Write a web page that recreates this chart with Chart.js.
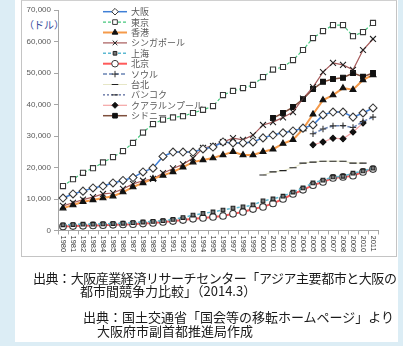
<!DOCTYPE html>
<html>
<head>
<meta charset="utf-8">
<script src="https://cdn.jsdelivr.net/npm/chart.js"></script>
<style>
html, body { margin: 0; padding: 0; width: 403px; height: 346px; overflow: hidden; background: #dcedf5; }
#panel { position: absolute; left: 15px; top: 0; width: 383px; height: 342px; background: #fff; }
#frame { position: absolute; left: 21px; top: 0; width: 374px; height: 255px; border: 1px solid #c4c4c4; border-top-color: #d0d0d0; }
#cv { position: absolute; left: 0; top: 0; }
#unit { position: absolute; left: 24px; top: 19px; font-family: "Noto Sans CJK JP"; font-size: 10px; line-height: 12px; color: #33489a; }
.src { position: absolute; font-family: "Noto Sans CJK JP"; font-size: 13px; line-height: 13px; color: #1a1a1a; white-space: nowrap; }
</style>
</head>
<body>
<div id="panel"></div>
<div id="frame"></div>
<div id="unit">（ドル）</div>
<canvas id="cv" width="403" height="346"></canvas>
<div class="src" style="left:33px; top:271px; letter-spacing:-0.45px;">出典：大阪産業経済リサーチセンター「アジア主要都市と大阪の</div>
<div class="src" style="left:80px; top:284px;">都市間競争力比較」（2014.3）</div>
<div class="src" style="left:83px; top:310px;">出典：国土交通省「国会等の移転ホームページ」より</div>
<div class="src" style="left:97px; top:324px;">大阪府市副首都推進局作成</div>

<script>
const years = ["1980", "1981", "1982", "1983", "1984", "1985", "1986", "1987", "1988", "1989",
    "1990", "1991", "1992", "1993", "1994", "1995", "1996", "1997", "1998", "1999",
    "2000", "2001", "2002", "2003", "2004", "2005", "2006", "2007", "2008", "2009",
    "2010", "2011"];

const yTicks = [0, 10000, 20000, 30000, 40000, 50000, 60000, 70000];

// GDP per capita (USD)
const osaka = [10300, 11600, 12500, 13500, 14100, 15100, 15900, 16800, 18600, 19800,
    23500, 24900, 24900, 24900, 25900, 26500, 28100, 27800, 27800, 28100,
    29400, 30300, 31000, 31600, 32500, 33500, 36700, 37600, 37600, 36000,
    37300, 38900];
const tokyo = [14100, 16300, 18300, 19800, 21600, 23300, 25200, 27800, 31100, 33800,
    35200, 35900, 36300, 37300, 38300, 39500, 43000, 44300, 45200, 46200,
    48700, 51100, 51900, 54100, 57300, 61100, 63300, 65200, 65200, 61700,
    63000, 65900];
const hongkong = [7100, 8100, 9100, 9700, 10300, 10900, 12200, 13800, 15100, 16400,
    17500, 18600, 20100, 21700, 22400, 23000, 24000, 25000, 24000, 24000,
    25000, 25800, 27600, 28800, 32200, 36900, 41400, 43000, 45200, 44700,
    47800, 49400];
const singapore = [7800, 8800, 9800, 10600, 11600, 11900, 13200, 14800, 15800, 16400,
    18200, 19700, 21000, 23000, 26200, 26800, 28100, 29300, 28800, 30300,
    33500, 34400, 35900, 37600, 41900, 45500, 50300, 53200, 52600, 51000,
    57300, 60800];
const shanghai = [1800, 1900, 2000, 2000, 2100, 2200, 2300, 2500, 2700, 2900,
    3100, 3500, 4100, 4900, 5400, 5900, 6500, 7100, 7500, 8100,
    9400, 10000, 10900, 12200, 13500, 15100, 16000, 17000, 17200, 18200,
    18900, 19800];
const beijing = [1300, 1400, 1500, 1600, 1700, 1800, 1900, 2000, 2200, 2400,
    2700, 3000, 3300, 3700, 4000, 4300, 4600, 5300, 5900, 6800,
    7500, 8600, 10000, 11600, 12900, 14400, 15400, 16700, 17000, 17400,
    18600, 19500];
const seoul = [null, null, null, null, null, null, null, null, null, null,
    null, null, null, null, null, null, null, null, null, null,
    null, null, null, null, null, 30700, 32200, 33200, 33300, 32700,
    34600, 36000];
const taipei = [null, null, null, null, null, null, null, null, null, null,
    null, null, null, null, null, null, null, null, null, null,
    17600, 18600, 19000, 19900, 21400, 21700, 22000, 22000, 22000, 21400,
    21400, null];
const bangkok = [null, null, null, null, null, null, null, null, null, null,
    null, null, null, null, null, null, null, null, null, null,
    null, null, null, null, null, null, null, null, null, null,
    null, null];
const kualalumpur = [null, null, null, null, null, null, null, null, null, null,
    null, null, null, null, null, null, null, null, null, null,
    null, null, null, null, null, 27200, 28100, 29300, 29100, 31300,
    34100, null];
const sydney = [null, null, null, null, null, null, null, null, null, null,
    null, null, null, null, null, null, null, null, null, null,
    null, 35700, 37300, 39200, 41700, 44900, 47200, 48100, 48500, 50000,
    48800, 50000];


function series(label, data, color, width, dash, style, radius, fill, edge) {
    return {
        label: label,
        data: data,
        borderColor: color,
        borderWidth: width,
        borderDash: dash,
        pointStyle: style,
        pointRadius: radius,
        pointHoverRadius: radius,
        pointBackgroundColor: fill,
        pointBorderColor: edge,
        pointBorderWidth: 1.1,
        tension: 0,
        fill: false
    };
}

const datasets = [
    series("大阪", osaka, "#3f7fd6", 1.5, [], "rectRot", 4, "#fff", "#3a3a3a"),
    series("東京", tokyo, "#45c77d", 1.2, [3, 2], "rect", 3.6, "#fff", "#3a3a3a"),
    series("香港", hongkong, "#f59a4a", 2, [], "triangle", 3.4, "#111", "#111"),
    series("シンガポール", singapore, "#a65a5a", 1.2, [], "crossRot", 4.2, "#222", "#222"),
    series("上海", shanghai, "#5cb9d2", 1.5, [3, 2], "rect", 2.6, "#777", "#222"),
    series("北京", beijing, "#ff5a5a", 2, [], "circle", 3.3, "#fff", "#3a3a3a"),
    series("ソウル", seoul, "#6a84b4", 1.5, [4, 2], "cross", 3.2, "#333", "#333"),
    series("台北", taipei, "#e6e6c6", 1, [], "line", 3.6, "#222", "#222"),
    series("バンコク", bangkok, "#2a3f80", 1, [2, 2], "line", 3.6, "#222", "#222"),
    series("クアラルンプール", kualalumpur, "#f4a4a4", 1.2, [], "rectRot", 3, "#111", "#111"),
    series("シドニー", sydney, "#7e4e3c", 1.5, [], "rect", 3.4, "#111", "#111")
];


// legend inside the plot, drawn by hand so it can sit where the original has it
const legendInside = {
    id: "legendInside",
    afterDraw(chart) {
        const ctx = chart.ctx;
        chart.data.datasets.forEach(function (ds, i) {
            const y = 11.7 + i * 10.4;
            ctx.save();
            ctx.strokeStyle = ds.borderColor;
            ctx.lineWidth = ds.borderWidth;
            ctx.setLineDash(ds.borderDash);
            ctx.beginPath();
            ctx.moveTo(103, y);
            ctx.lineTo(127, y);
            ctx.stroke();
            ctx.setLineDash([]);
            ctx.fillStyle = ds.pointBackgroundColor;
            ctx.strokeStyle = ds.pointBorderColor;
            ctx.lineWidth = 1;
            Chart.helpers.drawPoint(ctx, {
                pointStyle: ds.pointStyle,
                radius: Math.min(ds.pointRadius, 3.3),
                rotation: 0,
                borderWidth: 1
            }, 115, y);
            ctx.fillStyle = "#595959";
            ctx.font = "9px 'Noto Sans CJK JP'";
            ctx.textAlign = "left";
            ctx.textBaseline = "middle";
            ctx.fillText(ds.label, 131, y);
            ctx.restore();
        });
    }
};

// year labels turned clockwise, reading downwards
const yearLabels = {
    id: "yearLabels",
    afterDraw(chart) {
        const ctx = chart.ctx;
        const xs = chart.scales.x;
        const top = chart.chartArea.bottom + 5;
        ctx.save();
        ctx.fillStyle = "#383838";
        ctx.font = "7.5px 'Liberation Sans'";
        ctx.textAlign = "left";
        ctx.textBaseline = "middle";
        chart.data.labels.forEach(function (lab, i) {
            ctx.save();
            ctx.translate(xs.getPixelForValue(i) + 0.5, top);
            ctx.rotate(Math.PI / 2);
            ctx.fillText(lab, 0, 0);
            ctx.restore();
        });
        ctx.restore();
    }
};


new Chart(document.getElementById("cv"), {
    type: "line",
    data: { labels: years, datasets: datasets },
    options: {
        responsive: false,
        animation: false,
        events: [],
        layout: { padding: { left: 20, right: 25, top: 10, bottom: 85.5 } },
        plugins: { legend: { display: false }, tooltip: { enabled: false } },
        scales: {
            x: {
                offset: true,
                border: { color: "#a6a6a6" },
                grid: { offset: true, drawOnChartArea: false, drawTicks: true, tickLength: 4, color: "#a6a6a6" },
                ticks: { display: false },
                afterFit(scale) { scale.height = 30; }
            },
            y: {
                min: yTicks[0],
                max: yTicks[yTicks.length - 1],
                afterBuildTicks(scale) { scale.ticks = yTicks.map(function (v) { return { value: v }; }); },
                border: { color: "#a6a6a6" },
                grid: { drawOnChartArea: false, tickLength: 4, color: "#a6a6a6" },
                ticks: {
                    padding: 3,
                    color: "#595959",
                    font: { family: "Liberation Sans", size: 8 },
                    callback: function (v) { return v.toLocaleString("en-US"); }
                },
                afterFit(scale) { scale.width = 38; }
            }
        }
    },
    plugins: [legendInside, yearLabels]
});
</script>
</body>
</html>
